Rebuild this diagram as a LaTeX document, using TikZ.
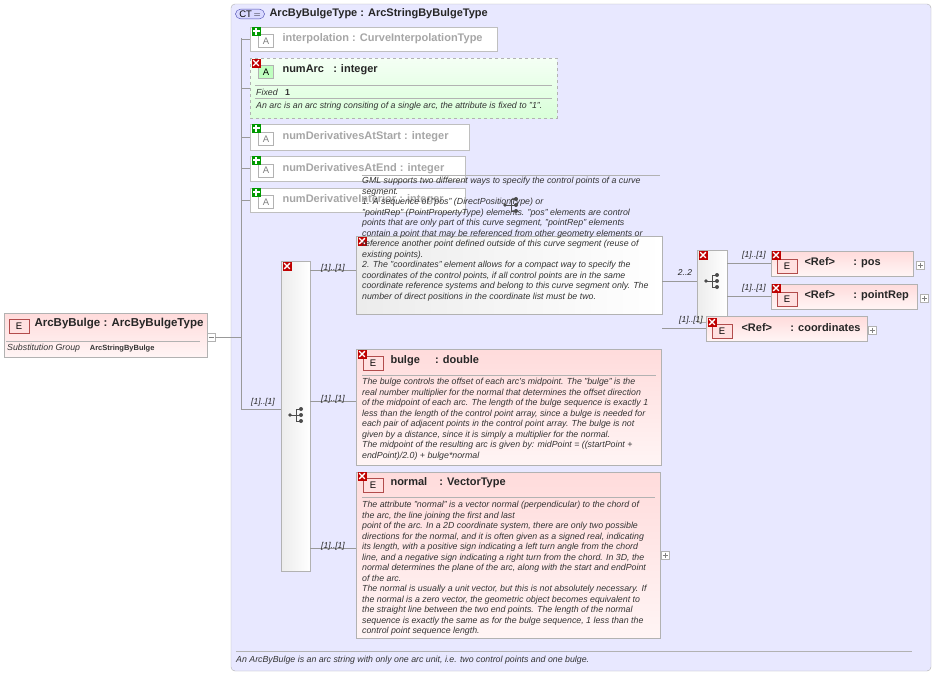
\documentclass[tikz,border=0pt]{standalone}
\usepackage{fontspec}
\setmainfont{Liberation Sans}
\usetikzlibrary{calc}
\begin{document}
\begin{tikzpicture}[x=1pt,y=-1pt,
  ln/.style={draw=gray!80,line width=0.6pt},
  attr/.style={draw=gray!50,fill=white},
  gt/.style={font=\bfseries\fontsize{11}{12}\selectfont,text=gray!70,anchor=west},
  bt/.style={font=\bfseries\fontsize{11}{12}\selectfont,text=black!85,anchor=west},
  doc/.style={font=\itshape\fontsize{8.8}{10.5}\selectfont,text=black!80,anchor=north west,align=left,inner sep=0},
  card/.style={font=\itshape\fontsize{8.5}{9}\selectfont,text=black!85},
  elem/.style={draw=gray!60,top color=red!14,bottom color=red!4},
  comp/.style={draw=gray!60,left color=gray!15,right color=white},
  badgeE/.style={draw=red!40!gray,fill=red!12,font=\fontsize{9.5}{10}\selectfont,inner sep=0,minimum width=20pt,minimum height=14pt},
  badgeA/.style={draw=gray!60,fill=white,text=gray,font=\fontsize{9.5}{10}\selectfont,inner sep=0,minimum width=15pt,minimum height=13pt},
  pl/.style={draw=gray!60,fill=white,minimum size=8pt,inner sep=0}]
\useasboundingbox (0,0) rectangle (936,675);
\fill[white] (0,0) rectangle (936,675);
% CT container
\draw[draw=gray!60,fill=blue!9,rounded corners=4pt] (231,4) rectangle (931,671);
\node[draw=blue!40!gray,fill=blue!15,rounded corners=5pt,font=\fontsize{9.5}{10}\selectfont,inner sep=1.5pt,minimum width=29pt] (ct) at (250,14) {CT\,$=$};
\node[bt,font=\bfseries\fontsize{11}{12}\selectfont] (ctt) at (266,14) {ArcByBulgeType : ArcStringByBulgeType};
\draw[gray!60] (236,651) -- (912,651);
\node[doc,anchor=west] (ctdoc) at (236,660) {An ArcByBulge is an arc string with only one arc unit, i.e. two control points and one bulge.};
% tree line
\coordinate (t0) at (241,38);
\coordinate (t1) at (241,409);
\draw[ln] (t0) -- (t1);
% icons
\newcommand\plusic[1]{\fill[green!60!black] ($(#1)+(-4.5,-4.5)$) rectangle ($(#1)+(4.5,4.5)$);\fill[white] ($(#1)+(-3.5,-1)$) rectangle ($(#1)+(3.5,1)$);\fill[white] ($(#1)+(-1,-3.5)$) rectangle ($(#1)+(1,3.5)$);}
\newcommand\xic[1]{\fill[red!75!black] ($(#1)+(-4.5,-4.5)$) rectangle ($(#1)+(4.5,4.5)$);\draw[white,line width=1.4pt] ($(#1)+(-2.8,-2.8)$) -- ($(#1)+(2.8,2.8)$) ($(#1)+(-2.8,2.8)$) -- ($(#1)+(2.8,-2.8)$);}
\foreach \n/\ya/\yb/\xb/\t in {a1/27/51/497/{interpolation : CurveInterpolationType},a3/124/150/469/{numDerivativesAtStart : integer},a4/156/181/465/{numDerivativesAtEnd : integer},a5/188/212/465/{numDerivativeInterior : integer}}{
  \draw[ln] (241,{(\ya+\yb)/2}) -- (250,{(\ya+\yb)/2});
  \draw[attr] (250,\ya) rectangle (\xb,\yb);
  \node[badgeA] (\n b) at (266,{(\ya+\yb)/2+2}) {A};
  \node[gt] (\n) at (279,{(\ya+\yb)/2}) {\t};
  \plusic{256,\ya+4}
}
% numArc
\draw[ln] (241,88) -- (250,88);
\draw[draw=gray!60,dashed,top color=green!4,bottom color=green!15] (250,58) rectangle (557,118);
\node[badgeA,fill=green!25,text=black] (nab) at (266,72) {A};
\node[bt] (na) at (279,70) {numArc \ \ : integer};
\xic{256,63}
\draw[gray!60] (255,85) -- (552,85);
\node[doc,anchor=west] (naf) at (256,92) {Fixed \ \ \upshape\bfseries 1};
\draw[gray!60] (255,98) -- (552,98);
\node[doc,anchor=west] (nad) at (256,106) {An arc is an arc string consiting of a single arc, the attribute is fixed to "1".};
% left element
\draw[elem] (4,313) rectangle (207,357);
\node[badgeE] (eb) at (19,326) {E};
\node[bt,font=\bfseries\fontsize{11.5}{12}\selectfont] (el) at (31,324) {ArcByBulge : ArcByBulgeType};
\draw[gray!60] (6,341) -- (200,341);
\node[doc,anchor=west] (sg) at (7,348) {Substitution Group \ \ \ \upshape\bfseries\fontsize{7.5}{8}\selectfont ArcStringByBulge};
\node[pl] (elp) at (211,337) {};
\draw[gray] (208.5,337) -- (213.5,337);
\draw[ln] (elp) -- (241,337);
% sequence compositor
\draw[comp] (281,261) rectangle (310,571);
\xic{287,266}
\node (seq) at (296,415) {};
\draw[ln] (t1) -- (281,409);
\node[card,anchor=south] at (263,410) {[1]..[1]};
\newcommand\seqic[1]{\begin{scope}[shift={(#1)}]\draw[black!70,line width=0.9pt] (-6,0)--(0,0) (0,-6)--(0,6) (0,-6)--(5,-6) (0,0)--(5,0) (0,6)--(5,6);\fill[black!70] (-6,0) circle (1.8) (5,-6) circle (2) (5,0) circle (2) (5,6) circle (2);\end{scope}}
\seqic{296,415}
% choice doc box
\draw[comp] (356,236) rectangle (662,314);
\xic{362,241}
\draw[ln] (310,270) -- (356,270);
\node[card,anchor=south] at (333,276) {[1]..[1]};
\draw[gray!60] (362,175) -- (660,175);
\node[doc] (cdoc) at (362,177) {GML supports two different ways to specify the control points of a curve\\segment.\\1. A sequence of "pos" (DirectPositionType) or\\"pointRep" (PointPropertyType) elements. "pos" elements are control\\points that are only part of this curve segment, "pointRep" elements\\contain a point that may be referenced from other geometry elements or\\reference another point defined outside of this curve segment (reuse of\\existing points).\\2. The "coordinates" element allows for a compact way to specify the\\coordinates of the control points, if all control points are in the same\\coordinate reference systems and belong to this curve segment only. The\\number of direct positions in the coordinate list must be two.};
\seqic{511,205}
% inner sequence
\draw[comp] (697,250) rectangle (727,322);
\xic{703,255}
\seqic{712,281}
\draw[ln] (662,281) -- (697,281);
\node[card,anchor=south] at (685,279) {2..2};
\foreach \n/\y/\xb/\t in {pos/263/913/pos,prep/296/917/pointRep}{
  \draw[ln] (727,\y) -- (771,\y);
  \node[card,anchor=south] at (754,\y) {[1]..[1]};
  \draw[elem] (771,251+\y-263) rectangle (\xb,276+\y-263);
  \node[badgeE] (\n b) at (787,\y+3) {E};
  \node[bt] (\n) at (801,\y) {<Ref> \ \ \ \ \ : \t};
  \xic{776,\y-8}
  \node[pl] at (\xb+7,\y+2) {};
  \draw[gray] (\xb+4.5,\y+2) -- (\xb+9.5,\y+2) (\xb+7,\y-0.5) -- (\xb+7,\y+4.5);
}
\draw[ln] (662,328) -- (706,328);
\node[card,anchor=south] at (691,328) {[1]..[1]};
\draw[elem] (706,316) rectangle (867,341);
\node[badgeE] (cob) at (722,331) {E};
\node[bt] (co) at (738,328) {<Ref> \ \ \ \ \ : coordinates};
\xic{712,322}
\node[pl] at (872,330) {};
\draw[gray] (869.5,330) -- (874.5,330) (872,327.5) -- (872,332.5);
% bulge
\draw[ln] (310,401) -- (356,401);
\node[card,anchor=south] at (333,407) {[1]..[1]};
\draw[elem] (356,349) rectangle (661,465);
\node[badgeE] (bb) at (373,363) {E};
\node[bt] (bu) at (387,361) {bulge \ \ \ \ : double};
\xic{362,354}
\draw[gray!60] (362,375) -- (656,375);
\node[doc] (bdoc) at (362,378) {The bulge controls the offset of each arc's midpoint. The "bulge" is the\\real number multiplier for the normal that determines the offset direction\\of the midpoint of each arc. The length of the bulge sequence is exactly 1\\less than the length of the control point array, since a bulge is needed for\\each pair of adjacent points in the control point array. The bulge is not\\given by a distance, since it is simply a multiplier for the normal.\\The midpoint of the resulting arc is given by: midPoint = ((startPoint +\\endPoint)/2.0) + bulge*normal};
% normal
\draw[ln] (310,548) -- (356,548);
\node[card,anchor=south] at (333,554) {[1]..[1]};
\draw[elem] (356,472) rectangle (660,638);
\node[badgeE] (nb) at (373,485) {E};
\node[bt] (no) at (387,483) {normal \ \ \ : VectorType};
\xic{362,476}
\draw[gray!60] (362,497) -- (655,497);
\node[doc] (ndoc) at (362,501) {The attribute "normal" is a vector normal (perpendicular) to the chord of\\the arc, the line joining the first and last\\point of the arc. In a 2D coordinate system, there are only two possible\\directions for the normal, and it is often given as a signed real, indicating\\its length, with a positive sign indicating a left turn angle from the chord\\line, and a negative sign indicating a right turn from the chord. In 3D, the\\normal determines the plane of the arc, along with the start and endPoint\\of the arc.\\The normal is usually a unit vector, but this is not absolutely necessary. If\\the normal is a zero vector, the geometric object becomes equivalent to\\the straight line between the two end points. The length of the normal\\sequence is exactly the same as for the bulge sequence, 1 less than the\\control point sequence length.};
\node[pl] at (665,555) {};
\draw[gray] (662.5,555) -- (667.5,555) (665,552.5) -- (665,557.5);
\end{tikzpicture}
\end{document}
